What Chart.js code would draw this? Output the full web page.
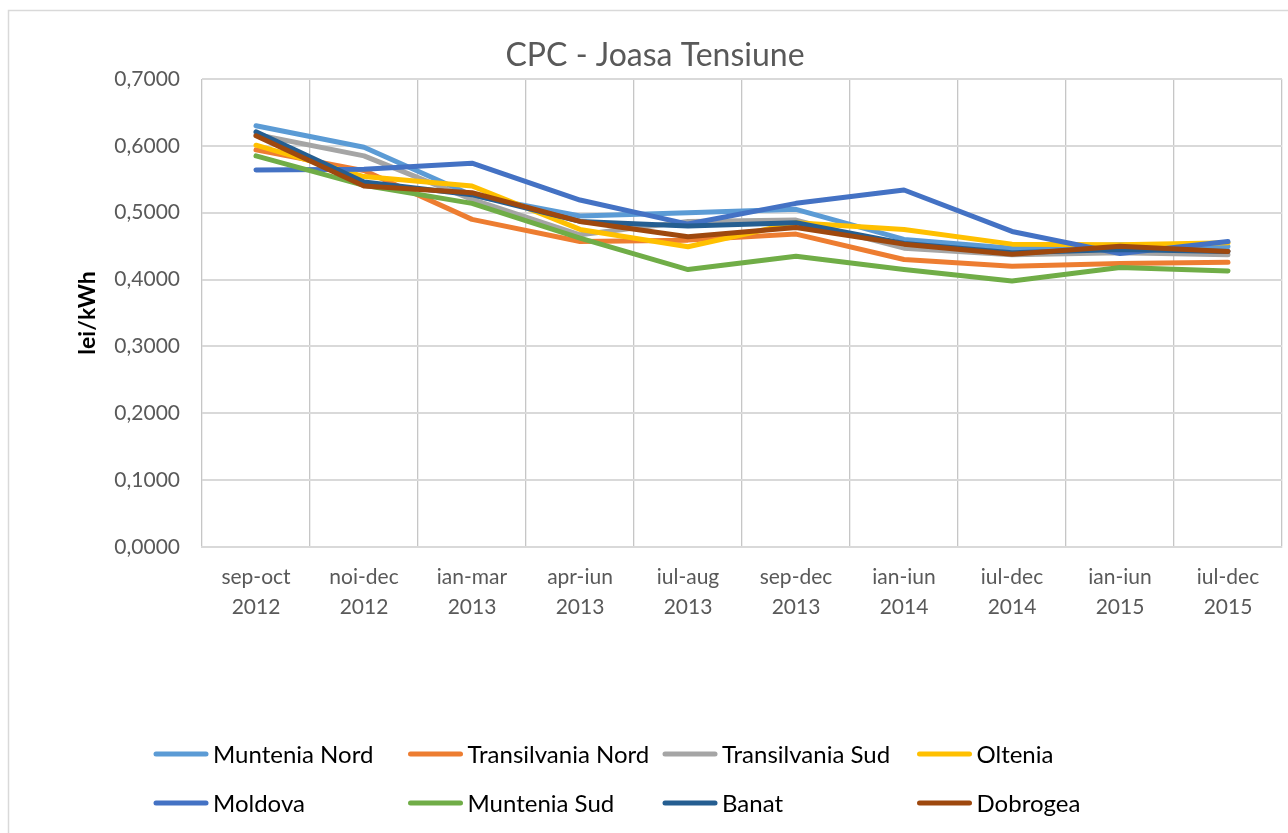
<!DOCTYPE html>
<html>
<head>
<meta charset="utf-8">
<script src="https://cdn.jsdelivr.net/npm/chart.js@4/dist/chart.umd.min.js"></script>
<style>
html,body{margin:0;padding:0;background:#fff;}
#wrap{width:1288px;height:833px;position:relative;}
</style>
</head>
<body>
<div id="wrap"><canvas id="c" width="1288" height="833"></canvas></div>
<script>
const categories = [
  ["sep-oct","2012"],["noi-dec","2012"],["ian-mar","2013"],["apr-iun","2013"],["iul-aug","2013"],
  ["sep-dec","2013"],["ian-iun","2014"],["iul-dec","2014"],["ian-iun","2015"],["iul-dec","2015"]
];
const seriesNames = ["Muntenia Nord","Transilvania Nord","Transilvania Sud","Oltenia","Moldova","Muntenia Sud","Banat","Dobrogea"];
const munteniaNord     = [0.630, 0.598, 0.526, 0.495, 0.500, 0.505, 0.460, 0.447, 0.452, 0.449];
const transilvaniaNord = [0.594, 0.563, 0.490, 0.457, 0.459, 0.468, 0.430, 0.420, 0.424, 0.426];
const transilvaniaSud  = [0.617, 0.585, 0.520, 0.467, 0.487, 0.489, 0.447, 0.437, 0.440, 0.437];
const oltenia          = [0.601, 0.554, 0.540, 0.475, 0.449, 0.485, 0.475, 0.453, 0.452, 0.455];
const moldova          = [0.564, 0.565, 0.574, 0.519, 0.483, 0.514, 0.534, 0.472, 0.439, 0.457];
const munteniaSud      = [0.585, 0.541, 0.514, 0.462, 0.415, 0.435, 0.415, 0.398, 0.418, 0.413];
const banat            = [0.621, 0.546, 0.527, 0.487, 0.480, 0.485, 0.454, 0.440, 0.445, 0.442];
const dobrogea         = [0.615, 0.540, 0.530, 0.487, 0.464, 0.478, 0.453, 0.438, 0.450, 0.442];
const seriesValues = [munteniaNord, transilvaniaNord, transilvaniaSud, oltenia, moldova, munteniaSud, banat, dobrogea];
const seriesColors = ["#5B9BD5","#ED7D31","#A5A5A5","#FFC000","#4472C4","#70AD47","#255E91","#9E480E"];
const yTicks = [0, 0.1, 0.2, 0.3, 0.4, 0.5, 0.6, 0.7];

const FONT = "Lato, 'Open Sans', sans-serif";

const datasets = seriesNames.map((n, i) => ({
  label: n,
  data: seriesValues[i],
  borderColor: seriesColors[i],
  backgroundColor: seriesColors[i],
  borderWidth: 5,
  pointRadius: 0,
  pointHoverRadius: 0,
  tension: 0,
  fill: false,
  borderCapStyle: 'round',
  borderJoinStyle: 'round',
  order: seriesNames.length - i
}));

const framePlugin = {
  id: 'frame',
  beforeDraw(chart) {
    const ctx = chart.ctx;
    ctx.save();
    ctx.fillStyle = '#fff';
    ctx.fillRect(0, 0, chart.width, chart.height);
    ctx.strokeStyle = '#d9d9d9';
    ctx.lineWidth = 1.5;
    ctx.strokeRect(8.5, 10.5, chart.width + 20, chart.height + 20);
    ctx.restore();
  }
};

const gridLegendPlugin = {
  id: 'gridLegend',
  afterDraw(chart) {
    const ctx = chart.ctx;
    ctx.save();
    const cols = 4, colX0 = 153, colW = 254.5, rowY0 = 754, rowH = 49;
    chart.data.datasets.forEach((ds, i) => {
      const c = i % cols, r = Math.floor(i / cols);
      const x = colX0 + c * colW, y = rowY0 + r * rowH;
      ctx.strokeStyle = ds.borderColor;
      ctx.lineWidth = 5;
      ctx.lineCap = 'round';
      ctx.beginPath();
      ctx.moveTo(x + 3, y);
      ctx.lineTo(x + 53, y);
      ctx.stroke();
      ctx.fillStyle = '#000';
      ctx.font = "24px " + FONT;
      ctx.textBaseline = 'middle';
      ctx.textAlign = 'left';
      ctx.fillText(ds.label, x + 60, y + 1);
    });
    ctx.restore();
  }
};

new Chart(document.getElementById('c'), {
  type: 'line',
  data: { labels: categories, datasets },
  plugins: [framePlugin, gridLegendPlugin],
  options: {
    responsive: false,
    animation: false,
    events: [],
    layout: { padding: { left: 28, right: 6, top: 10, bottom: 196 } },
    plugins: {
      legend: { display: false },
      tooltip: { enabled: false },
      title: {
        display: true,
        text: 'CPC - Joasa Tensiune',
        color: '#595959',
        font: { family: FONT, size: 32, weight: 'normal', lineHeight: 1.2 },
        padding: { top: 26, bottom: 4.6 }
      }
    },
    scales: {
      x: {
        type: 'category',
        offset: true,
        grid: { display: true, offset: true, color: '#c6c6c6', lineWidth: 1.3, drawTicks: false },
        border: { display: true, color: '#d9d9d9', width: 2 },
        ticks: {
          color: '#595959',
          font: { family: FONT, size: 21, lineHeight: 1.4 },
          padding: 16,
          maxRotation: 0, minRotation: 0, autoSkip: false
        },
        afterFit(scale) { scale.height = 90; }
      },
      y: {
        min: 0, max: 0.7,
        afterBuildTicks(scale) { scale.ticks = yTicks.map(v => ({ value: v })); },
        grid: { color: '#d9d9d9', lineWidth: 2, drawTicks: false },
        border: { display: false },
        ticks: {
          color: '#595959',
          font: { family: FONT, size: 21 },
          padding: 22,
          callback: v => Number(v).toFixed(4).replace('.', ',')
        },
        title: {
          display: true,
          text: 'lei/kWh',
          color: '#000',
          font: { family: FONT, size: 23, weight: 'bold', lineHeight: 1.2 },
          padding: { top: 46, bottom: 0 }
        },
        afterFit(scale) { scale.width = 174; }
      }
    }
  }
});
</script>
</body>
</html>
